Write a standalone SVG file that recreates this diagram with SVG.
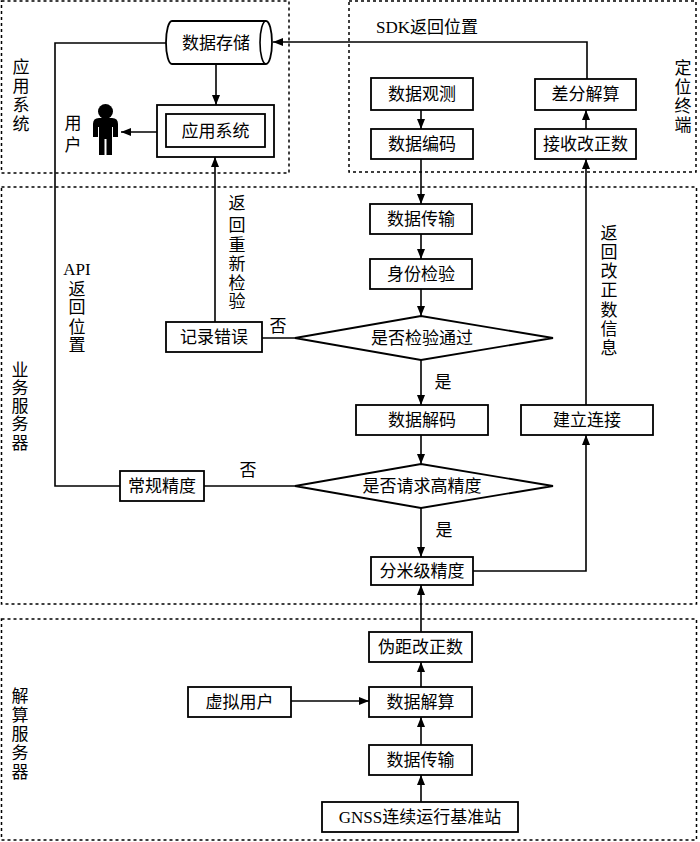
<svg xmlns="http://www.w3.org/2000/svg" width="700" height="842" viewBox="0 0 700 842">
<defs>
<style>
.zone{fill:none;stroke:#000;stroke-width:1.5;stroke-dasharray:3,3}
.box{fill:#fff;stroke:#000;stroke-width:1.8}
.ln{fill:none;stroke:#000;stroke-width:1.6}
.arr{marker-end:url(#ah)}
text{font-family:"Liberation Serif","Noto Sans CJK SC",serif;font-size:17px;fill:#000}
.c{text-anchor:middle;dominant-baseline:central}
</style>
<marker id="ah" viewBox="0 0 10 8" refX="10" refY="4" markerWidth="10" markerHeight="8" markerUnits="userSpaceOnUse" orient="auto">
<path d="M0,0 L10,4 L0,8 Z" fill="#000"/>
</marker>
</defs>
<rect width="700" height="842" fill="#fff"/>

<g id="zones">
<rect class="zone" x="1.5" y="1" width="287.5" height="172"/>
<rect class="zone" x="349" y="1" width="347" height="171"/>
<rect class="zone" x="1.5" y="187" width="695" height="417"/>
<rect class="zone" x="1.5" y="619" width="695" height="221"/>
</g>

<g id="zone-labels">
<text class="c"><tspan x="21" y="67">应</tspan><tspan x="21" y="86">用</tspan><tspan x="21" y="105">系</tspan><tspan x="21" y="124">统</tspan></text>
<text class="c"><tspan x="683" y="68">定</tspan><tspan x="683" y="87">位</tspan><tspan x="683" y="106">终</tspan><tspan x="683" y="125">端</tspan></text>
<text class="c"><tspan x="20" y="370">业</tspan><tspan x="20" y="388">务</tspan><tspan x="20" y="406">服</tspan><tspan x="20" y="424">务</tspan><tspan x="20" y="443">器</tspan></text>
<text class="c"><tspan x="20" y="696">解</tspan><tspan x="20" y="715">算</tspan><tspan x="20" y="734">服</tspan><tspan x="20" y="753">务</tspan><tspan x="20" y="772">器</tspan></text>
</g>

<g id="connectors">
<path class="ln arr" d="M587,79 V42 H273"/>
<path class="ln arr" d="M216,64 V105"/>
<path class="ln arr" d="M157,132 H121"/>
<path class="ln arr" d="M215,322 V157"/>
<path class="ln" d="M120,486 H55 V43 H166"/>
<path class="ln arr" d="M421,110 V129"/>
<path class="ln arr" d="M421,159 V204"/>
<path class="ln arr" d="M421,234 V259"/>
<path class="ln arr" d="M421,289 V316"/>
<path class="ln" d="M295,338 H262"/>
<path class="ln arr" d="M421,360 V405"/>
<path class="ln arr" d="M421,435 V464"/>
<path class="ln" d="M295,486 H204"/>
<path class="ln arr" d="M421,508 V557"/>
<path class="ln arr" d="M473,571 H586 V435"/>
<path class="ln arr" d="M586,405 V159"/>
<path class="ln arr" d="M586,129 V110"/>
<path class="ln arr" d="M421,632 V585"/>
<path class="ln arr" d="M421,687 V662"/>
<path class="ln arr" d="M291,701 H369"/>
<path class="ln arr" d="M421,745 V717"/>
<path class="ln arr" d="M421,802 V775"/>
</g>

<g id="connector-labels">
<text class="c" x="427" y="27">SDK返回位置</text>
<text class="c" x="278" y="326">否</text>
<text class="c" x="248" y="470">否</text>
<text class="c" x="443" y="382">是</text>
<text class="c" x="444" y="530">是</text>
<text class="c"><tspan x="237" y="203">返</tspan><tspan x="237" y="225">回</tspan><tspan x="237" y="245">重</tspan><tspan x="237" y="264">新</tspan><tspan x="237" y="283">检</tspan><tspan x="237" y="301">验</tspan></text>
<text class="c"><tspan x="77" y="269">API</tspan><tspan x="77" y="289">返</tspan><tspan x="77" y="307">回</tspan><tspan x="77" y="327">位</tspan><tspan x="77" y="345">置</tspan></text>
<text class="c"><tspan x="609" y="233">返</tspan><tspan x="609" y="252">回</tspan><tspan x="609" y="271">改</tspan><tspan x="609" y="290">正</tspan><tspan x="609" y="310">数</tspan><tspan x="609" y="329">信</tspan><tspan x="609" y="348">息</tspan></text>
</g>

<g id="n-storage">
<path class="box" d="M172,21 H266 A6,21.5 0 0 1 266,64 H172 A6,21.5 0 0 1 172,21 Z"/>
<path class="ln" d="M266,21 A6,21.5 0 0 0 266,64"/>
<text class="c" x="216" y="43">数据存储</text>
</g>

<g id="n-appsys">
<rect class="box" x="157" y="105" width="117" height="52"/>
<rect class="box" x="166" y="114" width="99" height="33"/>
<text class="c" x="215.5" y="131">应用系统</text>
</g>

<g id="n-user">
<circle cx="105.5" cy="111.5" r="7.5" fill="#000"/>
<path d="M93,137 V124 Q93,118 99,118 H112 Q118,118 118,124 V137 H113 V127 H112 V155 H106.5 V139 H104.5 V155 H99 V127 H98 V137 Z" fill="#000"/>
<text class="c"><tspan x="73" y="123">用</tspan><tspan x="73" y="145">户</tspan></text>
</g>

<g id="n-observe"><rect class="box" x="371" y="78" width="102" height="32"/><text class="c" x="422" y="94">数据观测</text></g>
<g id="n-encode"><rect class="box" x="371" y="129" width="102" height="30"/><text class="c" x="422" y="144">数据编码</text></g>
<g id="n-diffsolve"><rect class="box" x="535" y="79" width="101" height="31"/><text class="c" x="585.5" y="94.5">差分解算</text></g>
<g id="n-receive"><rect class="box" x="535" y="129" width="101" height="30"/><text class="c" x="585.5" y="144">接收改正数</text></g>

<g id="n-transmit1"><rect class="box" x="370" y="204" width="102" height="30"/><text class="c" x="421" y="219">数据传输</text></g>
<g id="n-identity"><rect class="box" x="370" y="259" width="102" height="30"/><text class="c" x="421" y="274">身份检验</text></g>
<g id="n-check"><path class="box" d="M295,338 L421,316 L553,338 L421,360 Z"/><text class="c" x="422" y="338">是否检验通过</text></g>
<g id="n-error"><rect class="box" x="166" y="322" width="96" height="30"/><text class="c" x="214" y="337">记录错误</text></g>
<g id="n-decode"><rect class="box" x="356" y="405" width="132" height="30"/><text class="c" x="422" y="420">数据解码</text></g>
<g id="n-connect"><rect class="box" x="521" y="405" width="132" height="30"/><text class="c" x="587" y="420">建立连接</text></g>
<g id="n-highprec"><path class="box" d="M295,486 L421,464 L553,486 L421,508 Z"/><text class="c" x="422" y="486">是否请求高精度</text></g>
<g id="n-normal"><rect class="box" x="120" y="471" width="84" height="30"/><text class="c" x="162" y="486">常规精度</text></g>
<g id="n-decimeter"><rect class="box" x="371" y="557" width="102" height="28"/><text class="c" x="422" y="571">分米级精度</text></g>

<g id="n-pseudo"><rect class="box" x="369" y="632" width="103" height="30"/><text class="c" x="420.5" y="647">伪距改正数</text></g>
<g id="n-virtual"><rect class="box" x="188" y="687" width="103" height="30"/><text class="c" x="239.5" y="702">虚拟用户</text></g>
<g id="n-solve"><rect class="box" x="369" y="687" width="103" height="30"/><text class="c" x="420.5" y="702">数据解算</text></g>
<g id="n-transmit2"><rect class="box" x="369" y="745" width="103" height="30"/><text class="c" x="420.5" y="760">数据传输</text></g>
<g id="n-gnss"><rect class="box" x="322" y="802" width="196" height="30"/><text class="c" x="420" y="817">GNSS连续运行基准站</text></g>
</svg>
